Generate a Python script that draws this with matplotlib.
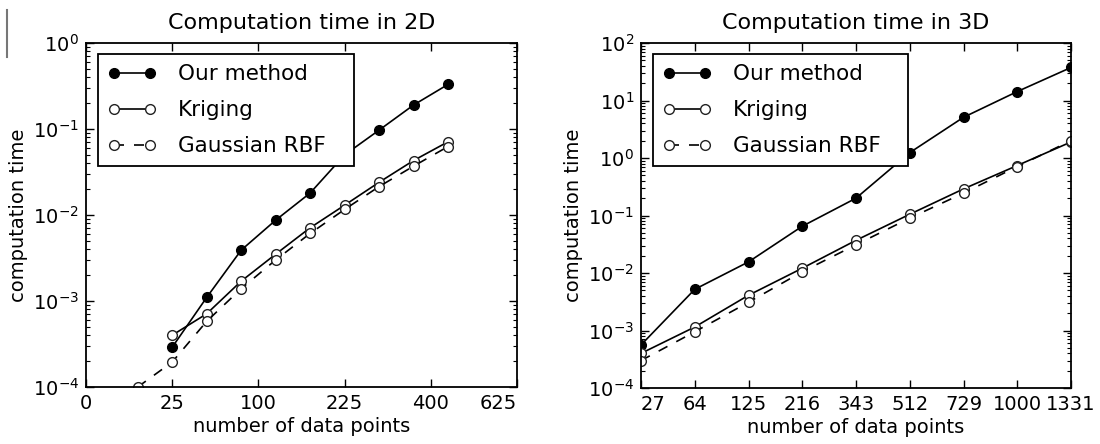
import numpy as np
import matplotlib
matplotlib.use("Agg")
import matplotlib.pyplot as plt
from matplotlib.lines import Line2D
from matplotlib.ticker import NullLocator

plt.rcParams["font.family"] = ["DejaVu Sans"]

# 2D: k x k grids
n_2d = [25, 49, 81, 121, 169, 225, 289, 361, 441]
n_2d_rbf = [9, 25, 49, 81, 121, 169, 225, 289, 361, 441]
ours_2d = [2.9e-4, 1.1e-3, 3.9e-3, 8.7e-3, 1.8e-2, 5.0e-2, 9.7e-2, 0.19, 0.33]
kriging_2d = [4.0e-4, 7.1e-4, 1.7e-3, 3.5e-3, 7.1e-3, 1.3e-2, 2.4e-2, 4.3e-2, 7.1e-2]
rbf_2d = [1.0e-4, 1.95e-4, 5.8e-4, 1.39e-3, 3.0e-3, 6.1e-3, 1.16e-2, 2.14e-2, 3.7e-2, 6.25e-2]
ticks_2d = [0, 25, 100, 225, 400, 625]

# 3D: k x k x k grids
n_3d = [27, 64, 125, 216, 343, 512, 729, 1000, 1331]
ours_3d = [5.6e-4, 5.2e-3, 1.56e-2, 6.5e-2, 0.20, 1.24, 5.1, 14.3, 37.5]
kriging_3d = [4.0e-4, 1.15e-3, 4.1e-3, 1.21e-2, 3.7e-2, 0.105, 0.29, 0.74, 1.9]
rbf_3d = [3.0e-4, 9.5e-4, 3.1e-3, 1.05e-2, 3.1e-2, 0.09, 0.245, 0.71, 2.0]
ticks_3d = [27, 64, 125, 216, 343, 512, 729, 1000, 1331]

W, H = 1100, 444
fig = plt.figure(figsize=(W / 100, H / 100), dpi=100)
ax1 = fig.add_axes([86 / W, 57 / H, 431 / W, 344 / H])
ax2 = fig.add_axes([641 / W, 56 / H, 430 / W, 345 / H])


def draw(ax, x, xr, ours, krig, rbf):
    ax.plot(x, ours, "-o", color="k", lw=1.2, ms=7, mfc="k", mec="k",
            label="Our method")
    ax.plot(x, krig, "-o", color="k", lw=1.2, ms=7, mfc="w", mec="#222222",
            mew=1.0, label="Kriging")
    ax.plot(xr, rbf, "--o", color="k", lw=1.2, ms=7, mfc="w", mec="#222222",
            mew=1.0, dashes=(6, 6), label="Gaussian RBF")


def style(ax, title):
    ax.set_yscale("log")
    ax.set_title(title, fontsize=16, pad=10)
    ax.set_xlabel("number of data points", fontsize=14, labelpad=3)
    ax.set_ylabel("computation time", fontsize=14, labelpad=3.5)
    ax.tick_params(which="both", direction="in", top=True, right=True,
                   labelsize=14, pad=5)
    ax.tick_params(which="major", length=6, width=1)
    ax.tick_params(which="minor", length=3, width=0.8)
    ax.xaxis.set_minor_locator(NullLocator())
    for s in ax.spines.values():
        s.set_linewidth(1.3)
    leg = ax.legend(loc="upper left", bbox_to_anchor=(0.027, 0.967, 0.594, 0),
                    mode="expand", borderaxespad=0, fontsize=15.5, numpoints=2,
                    fancybox=False, handlelength=2.3, handletextpad=1.0,
                    labelspacing=0.75, borderpad=0.45, framealpha=1)
    leg.get_frame().set_edgecolor("k")
    leg.get_frame().set_linewidth(1.3)


draw(ax1, n_2d, n_2d_rbf, ours_2d, kriging_2d, rbf_2d)
ax1.set_xscale("function", functions=(np.sqrt, np.square))
ax1.set_xlim(0, 625)
ax1.set_ylim(1e-4, 1)
ax1.set_xticks(ticks_2d, [str(t) for t in ticks_2d])
style(ax1, "Computation time in 2D")
ax1.get_xticklabels()[-1].set_horizontalalignment("right")

draw(ax2, n_3d, n_3d, ours_3d, kriging_3d, rbf_3d)
ax2.set_xscale("function", functions=(np.cbrt, lambda v: np.power(v, 3)))
ax2.set_xlim(27, 1331)
ax2.set_ylim(1e-4, 1e2)
ax2.set_xticks(ticks_3d, [str(t) for t in ticks_3d])
style(ax2, "Computation time in 3D")
ax2.get_xticklabels()[0].set_horizontalalignment("left")

fig.add_artist(Line2D([7 / W, 7 / W], [1 - 10 / H, 1 - 57 / H],
                      color="#777777", lw=1.5))

fig.savefig("out.png", dpi=100)
